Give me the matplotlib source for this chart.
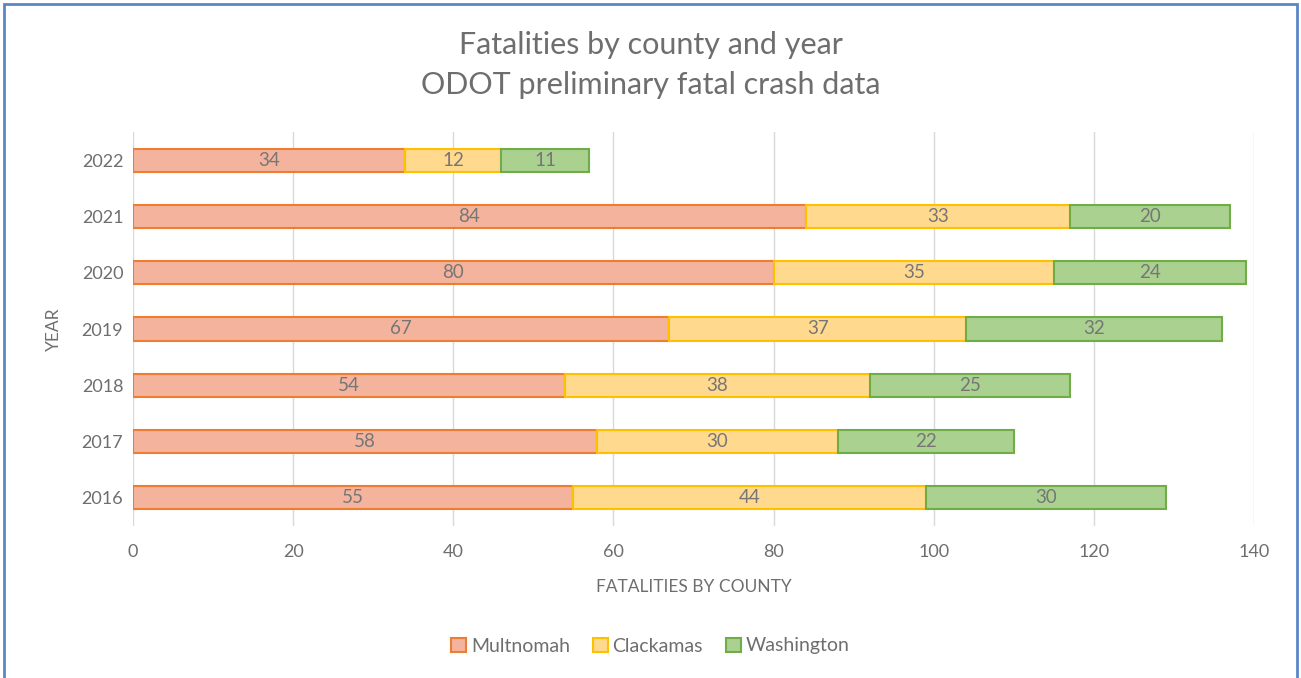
import matplotlib
matplotlib.use("Agg")
import matplotlib.pyplot as plt
from matplotlib.patches import Rectangle

years = ["2016", "2017", "2018", "2019", "2020", "2021", "2022"]
multnomah = [55, 58, 54, 67, 80, 84, 34]
clackamas = [44, 30, 38, 37, 35, 33, 12]
washington = [30, 22, 25, 32, 24, 20, 11]
series_names = ["Multnomah", "Clackamas", "Washington"]
x_ticks = [0, 20, 40, 60, 80, 100, 120, 140]

plt.rcParams['font.family'] = ['Lato', 'DejaVu Sans']

fills = ["#F4B39C", "#FFD98E", "#AAD190"]
edges = ["#ED7D31", "#FFC000", "#70AD47"]
text_grey = "#767676"

fig = plt.figure(figsize=(13.01, 6.78), dpi=100)
ax = fig.add_axes([133/1301, 1 - 526/678, (1254-133)/1301, (526-132)/678])

left = [0]*len(years)
for vals, name, fc, ec in zip([multnomah, clackamas, washington], series_names, fills, edges):
    bars = ax.barh(years, vals, left=left, height=0.41, color=fc, edgecolor=ec,
                   linewidth=1.5, label=name, zorder=3)
    for b, v in zip(bars, vals):
        ax.text(b.get_x() + b.get_width()/2, b.get_y() + b.get_height()/2, str(v),
                ha='center', va='center', fontsize=13.5, color=text_grey, zorder=4)
    left = [l + v for l, v in zip(left, vals)]

ax.set_xlim(0, 140)
ax.set_ylim(-0.5, len(years) - 0.5)
ax.set_xticks(x_ticks)
ax.set_xticklabels([str(t) for t in x_ticks])
ax.grid(axis='x', color="#D9D9D9", linewidth=1, zorder=0)
for s in ax.spines.values():
    s.set_visible(False)
ax.tick_params(axis='both', length=0, labelsize=13, colors="#595959", labelcolor="#6E6E6E")
ax.tick_params(axis='x', pad=13)
ax.tick_params(axis='y', pad=7)
ax.set_xlabel("FATALITIES BY COUNTY", fontsize=12.5, color="#6E6E6E", labelpad=14)
ax.set_ylabel("YEAR", fontsize=12.5, color="#6E6E6E", labelpad=14)

fig.text(0.5, 1 - 45/678, "Fatalities by county and year", ha='center', va='center',
         fontsize=22, color="#6E6E6E")
fig.text(0.5, 1 - 85/678, "ODOT preliminary fatal crash data", ha='center', va='center',
         fontsize=22, color="#6E6E6E")

leg = fig.legend(loc='center', bbox_to_anchor=(0.5, 1 - 646/678), ncol=3, frameon=False,
                 fontsize=14, handlelength=0.75, handleheight=0.75, handletextpad=0.25,
                 columnspacing=1.2, labelcolor="#6E6E6E")

fig.patches.append(Rectangle((4/1301, -0.01), 1 - 8/1301, 1 - 4/678 + 0.01,
                             transform=fig.transFigure, fill=False,
                             edgecolor="#5B86C5", linewidth=2))

fig.savefig("out.png", dpi=100)
